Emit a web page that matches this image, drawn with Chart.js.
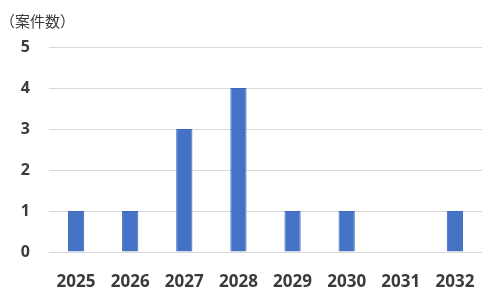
<!DOCTYPE html>
<html>
<head>
  <meta charset="utf-8">
  <title>案件数</title>
  <script src="https://cdn.jsdelivr.net/npm/chart.js"></script>
  <style>
    body { margin: 0; background: #fff; }
  </style>
</head>
<body>
  <canvas id="countChart" width="490" height="295"></canvas>

  <script>
    // values
    const years = ['2025', '2026', '2027', '2028', '2029', '2030', '2031', '2032'];
    const counts = [1, 1, 3, 4, 1, 1, 0, 1];
    const yTitle = '（案件数）';

    const textColor = '#3b3b3b';
    const latin = '"Open Sans", "Noto Sans CJK JP", sans-serif';

    new Chart(document.getElementById('countChart'), {
      type: 'bar',
      data: {
        labels: years,
        datasets: [{
          label: '案件数',
          data: counts,
          backgroundColor: '#4472C4',
          borderColor: '#3A68C2',
          borderWidth: 1,
          categoryPercentage: 1,
          barPercentage: 0.3
        }]
      },
      options: {
        responsive: false,
        animation: false,
        devicePixelRatio: 1,
        layout: { padding: { left: 0, right: 8, top: 0, bottom: 8 } },
        plugins: {
          legend: { display: false },
          tooltip: { enabled: false },
          title: {
            display: true,
            text: yTitle,
            align: 'start',
            color: textColor,
            font: { family: '"Noto Sans CJK JP", sans-serif', size: 15, weight: 'normal', lineHeight: 1.2 },
            padding: { top: 12, bottom: 17 }
          }
        },
        scales: {
          x: {
            afterFit: s => { s.height = 35; },
            grid: { display: false },
            border: { display: false },
            ticks: {
              color: textColor,
              padding: 12,
              maxRotation: 0,
              font: { family: latin, size: 17, weight: 'bold' }
            }
          },
          y: {
            min: 0,
            max: 5,
            afterFit: s => { s.width = 49; },
            grid: { color: '#d9d9d9', lineWidth: 1, drawTicks: false },
            border: { display: false },
            ticks: {
              stepSize: 1,
              color: textColor,
              padding: 19,
              font: { family: latin, size: 16, weight: 'bold' }
            }
          }
        }
      }
    });
  </script>
</body>
</html>
